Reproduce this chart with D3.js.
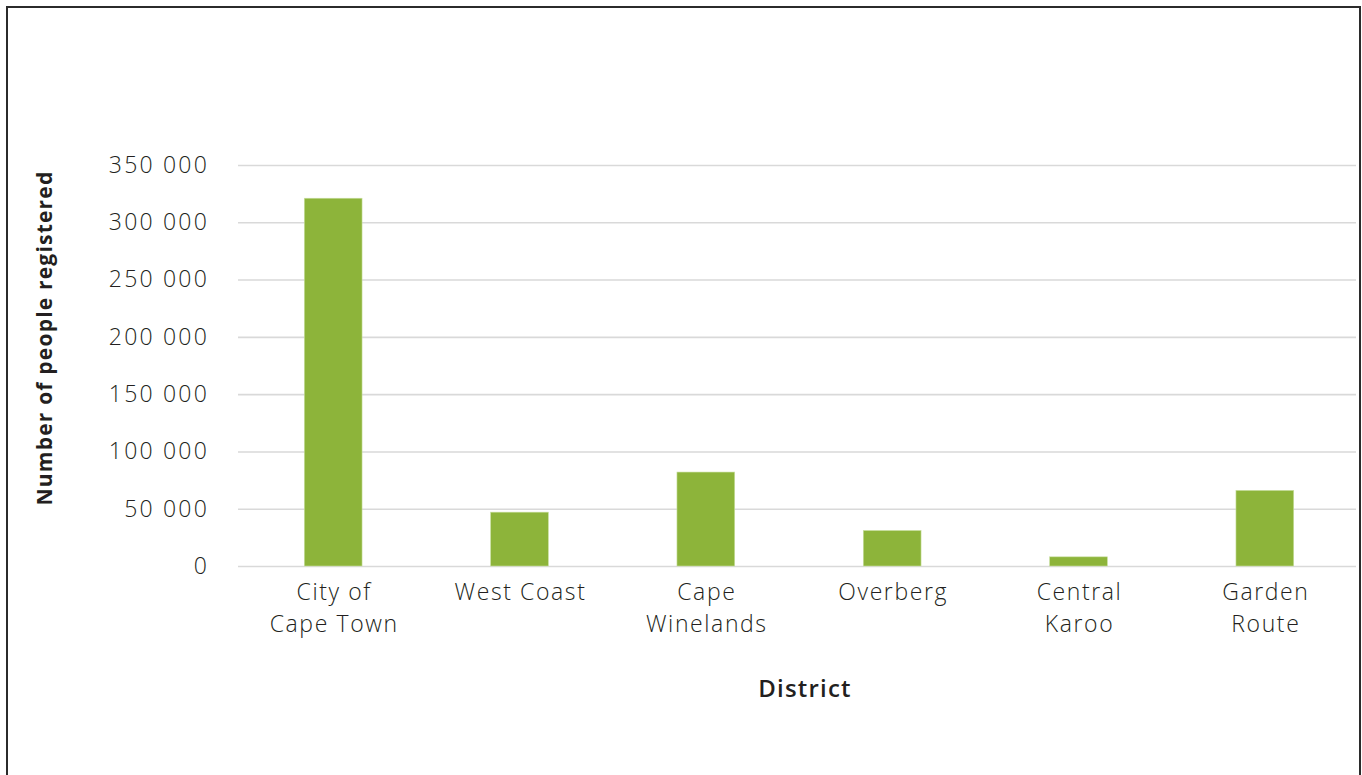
<!DOCTYPE html>
<html>
<head>
<meta charset="utf-8">
<script src="https://cdn.jsdelivr.net/npm/d3@7"></script>
<style>
  html, body { margin: 0; padding: 0; background: #fff; }
  svg { display: block; }
  text { font-family: "Open Sans", "Noto Sans", sans-serif; fill: #231f20; }
</style>
</head>
<body>
<svg id="chart" width="1362" height="775"></svg>
<script>
// Registrations per district
const districts = [
  ["City of", "Cape Town"],
  ["West Coast"],
  ["Cape", "Winelands"],
  ["Overberg"],
  ["Central", "Karoo"],
  ["Garden", "Route"]
];
const registered = [321000, 47000, 82000, 31000, 8000, 66000];
const yTicks = [0, 50000, 100000, 150000, 200000, 250000, 300000, 350000];
const yTitle = "Number of people registered";
const xTitle = "District";

const svg = d3.select("#chart");
const W = 1362, H = 775;

// outer frame
svg.append("rect")
  .attr("x", 7).attr("y", 7)
  .attr("width", 1353).attr("height", H + 10)
  .attr("fill", "none").attr("stroke", "#2b2b2b").attr("stroke-width", 2);

const plotLeft = 240, plotRight = 1358, plotTop = 165, plotBottom = 566;

const x = d3.scaleBand()
  .domain(districts.map((d, i) => i))
  .range([plotLeft, plotRight])
  .paddingInner(0.69)
  .paddingOuter(0.345);

const y = d3.scaleLinear().domain([0, 350000]).range([plotBottom, plotTop]);

const fmt = v => d3.format(",")(v).replace(/,/g, " ");

// gridlines and value labels
const yAxis = d3.axisLeft(y)
  .tickValues(yTicks)
  .tickSize(-(plotRight - plotLeft))
  .tickFormat(fmt)
  .tickPadding(29);

const gy = svg.append("g")
  .attr("transform", `translate(${plotLeft - 2},0)`)
  .call(yAxis);
gy.select(".domain").remove();
gy.selectAll(".tick line").attr("stroke", "#d9d9d9").attr("stroke-width", 1.6);
gy.selectAll(".tick text")
  .attr("font-size", 23)
  .attr("font-weight", 300)
  .attr("letter-spacing", 2.2)
  .attr("fill", "#231f20")
  .style("font-family", '"Open Sans", sans-serif');

// bars
svg.append("g").selectAll("rect")
  .data(registered)
  .join("rect")
  .attr("x", (d, i) => x(i))
  .attr("y", d => y(d))
  .attr("width", x.bandwidth())
  .attr("height", d => y(0) - y(d))
  .attr("fill", "#8db43a")
  .attr("stroke", "#c9dfa2")
  .attr("stroke-width", 0.6);

// category labels
const xAxis = d3.axisBottom(x).tickSize(0).tickFormat(() => "");
const gx = svg.append("g")
  .attr("transform", `translate(0,${plotBottom})`)
  .call(xAxis);
gx.select(".domain").remove();
gx.selectAll(".tick").each(function(i) {
  const t = d3.select(this).append("text")
    .attr("text-anchor", "middle")
    .attr("font-size", 23)
    .attr("font-weight", 300)
    .attr("letter-spacing", 1.6)
    .attr("fill", "#231f20");
  districts[i].forEach((line, k) => {
    t.append("tspan").attr("x", 1).attr("y", 34 + k * 32).text(line);
  });
});

// axis titles
svg.append("text")
  .attr("x", 805).attr("y", 697)
  .attr("text-anchor", "middle")
  .attr("font-size", 24)
  .attr("font-weight", 600)
  .attr("letter-spacing", 1.2)
  .text(xTitle);

svg.append("text")
  .attr("transform", `translate(52,338) rotate(-90)`)
  .attr("text-anchor", "middle")
  .attr("font-size", 21)
  .attr("font-weight", 700)
  .attr("letter-spacing", 1.2)
  .text(yTitle);
</script>
</body>
</html>
